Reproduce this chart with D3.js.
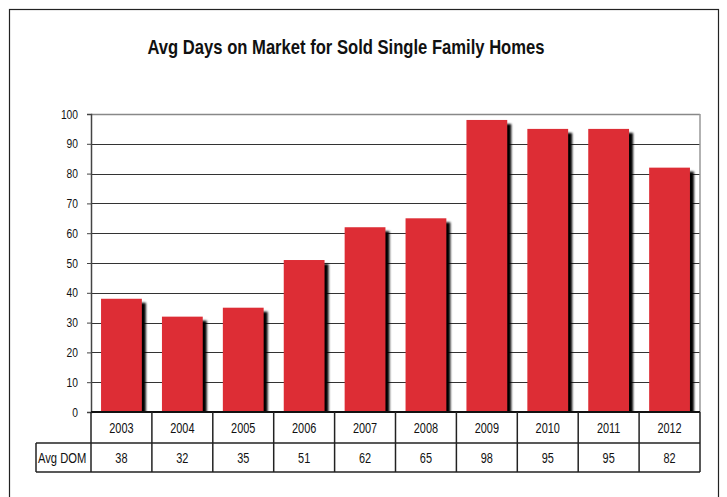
<!DOCTYPE html>
<html><head><meta charset="utf-8">
<script src="https://cdn.jsdelivr.net/npm/d3@7"></script>
<style>
body{margin:0;background:#fff;}
text{font-family:"Liberation Sans",Arial,sans-serif;}
</style></head>
<body><svg id="c" width="727" height="497"></svg>
<script>
const title = "Avg Days on Market for Sold Single Family Homes";
const years = ["2003","2004","2005","2006","2007","2008","2009","2010","2011","2012"];
const avgDOM = [38,32,35,51,62,65,98,95,95,82];
const yTicks = [0,10,20,30,40,50,60,70,80,90,100];
const rowLabel = "Avg DOM";

const svg = d3.select("#c");
const L=91,R=700,T=114,B=412;
const row1B=443,row2B=472,labelL=36;

// condense text horizontally (source uses a condensed face)
function squeeze(sel, f){
  sel.each(function(){
    const w=this.getComputedTextLength();
    d3.select(this).attr("textLength",w*f).attr("lengthAdjust","spacingAndGlyphs");
  });
}

svg.append("rect").attr("x",9.5).attr("y",9.5).attr("width",709).attr("height",500)
  .attr("fill","none").attr("stroke","#222").attr("stroke-width",1.2);

svg.append("text").attr("x",346).attr("y",54).attr("text-anchor","middle")
  .attr("font-size",21).attr("font-weight","bold").attr("fill","#111")
  .attr("textLength",397).attr("lengthAdjust","spacingAndGlyphs").text(title);

const x = d3.scaleBand().domain(years).range([L,R]).paddingInner(0.33).paddingOuter(0.165);
const xb = d3.scaleBand().domain(years).range([L,R]);
const y = d3.scaleLinear().domain([0,100]).range([B,T]);

// gridlines
svg.append("g").selectAll("line").data(yTicks.filter(d=>d>0)).join("line")
  .attr("x1",L).attr("x2",R).attr("y1",d=>Math.round(y(d))+0.5).attr("y2",d=>Math.round(y(d))+0.5)
  .attr("stroke",d=>d===100?"#888":"#333").attr("stroke-width",d=>d===100?1.5:1.2);
svg.append("line").attr("x1",R).attr("x2",R).attr("y1",T).attr("y2",B).attr("stroke","#999").attr("stroke-width",1.5);

// y axis
const ya = svg.append("g").attr("transform",`translate(${L},0)`)
  .call(d3.axisLeft(y).tickValues(yTicks).tickSize(4).tickPadding(9));
ya.select(".domain").attr("stroke","#444").attr("stroke-width",1.5);
ya.selectAll(".tick line").attr("stroke","#444");
ya.selectAll("text").attr("font-size",12.5).attr("fill","#111").attr("font-family",null);
squeeze(ya.selectAll("text"),0.82);

// shadows
const defs=svg.append("defs");
defs.append("filter").attr("id","bl").append("feGaussianBlur").attr("stdDeviation",0.8);
defs.append("clipPath").attr("id","cp").append("rect").attr("x",L).attr("y",0).attr("width",R-L).attr("height",B);
const g = svg.append("g").attr("clip-path","url(#cp)");
g.selectAll("rect.sh").data(avgDOM).join("rect").attr("class","sh")
  .attr("x",(d,i)=>x(years[i])+4).attr("y",d=>y(d)+4)
  .attr("width",x.bandwidth()).attr("height",d=>B-y(d))
  .attr("fill","#000").attr("filter","url(#bl)");
g.selectAll("rect.bar").data(avgDOM).join("rect").attr("class","bar")
  .attr("x",(d,i)=>x(years[i])).attr("y",d=>y(d))
  .attr("width",x.bandwidth()).attr("height",d=>B-y(d))
  .attr("fill","#dd2d35");

// x axis line
svg.append("line").attr("x1",L).attr("x2",R).attr("y1",B).attr("y2",B).attr("stroke","#111").attr("stroke-width",2);

// data table
const tbl = svg.append("g").attr("stroke","#222").attr("stroke-width",1.5);
tbl.append("line").attr("x1",labelL).attr("x2",R).attr("y1",row1B).attr("y2",row1B);
tbl.append("line").attr("x1",labelL).attr("x2",R).attr("y1",row2B).attr("y2",row2B);
tbl.append("line").attr("x1",labelL).attr("x2",labelL).attr("y1",row1B).attr("y2",row2B);
tbl.selectAll("line.v").data(years.concat(["end"])).join("line").attr("class","v")
  .attr("x1",(d,i)=>L+i*xb.step()).attr("x2",(d,i)=>L+i*xb.step())
  .attr("y1",B).attr("y2",row2B);

const yt = svg.append("g").selectAll("text").data(years).join("text")
  .attr("x",d=>xb(d)+xb.bandwidth()/2).attr("y",(B+row1B)/2+5)
  .attr("text-anchor","middle").attr("font-size",14).attr("fill","#111").text(d=>d);
squeeze(yt,0.78);
const vt = svg.append("g").selectAll("text").data(avgDOM).join("text")
  .attr("x",(d,i)=>xb(years[i])+xb.bandwidth()/2).attr("y",(row1B+row2B)/2+5)
  .attr("text-anchor","middle").attr("font-size",14).attr("fill","#111").text(d=>d);
squeeze(vt,0.78);
const rl = svg.append("text").attr("x",labelL+2).attr("y",(row1B+row2B)/2+5)
  .attr("font-size",14).attr("fill","#111").text(rowLabel);
squeeze(rl,0.8);
</script></body></html>
